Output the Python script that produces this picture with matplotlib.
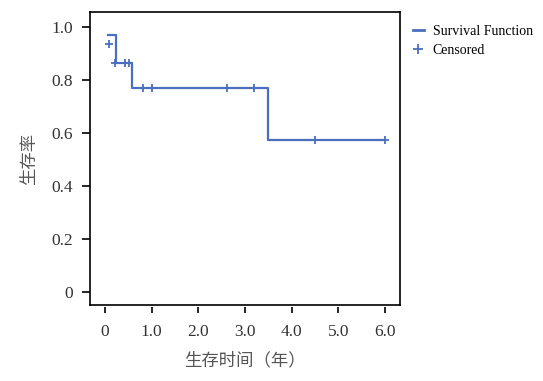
import numpy as np
import matplotlib.pyplot as plt

# Survival curve (step points)
t_step = [0.06, 0.23, 0.59, 3.50, 6.00]
s_step = [0.970, 0.864, 0.767, 0.572, 0.572]

# Censored observations
t_cens = [0.09, 0.21, 0.43, 0.51, 0.81, 1.00, 2.61, 3.19, 4.50, 6.00]
s_cens = [0.934, 0.864, 0.864, 0.864, 0.767, 0.767, 0.767, 0.767, 0.572, 0.572]

xticks = [0, 1, 2, 3, 4, 5, 6]
xtick_labels = ['0', '1.0', '2.0', '3.0', '4.0', '5.0', '6.0']
yticks = [0, 0.2, 0.4, 0.6, 0.8, 1.0]
ytick_labels = ['0', '0.2', '0.4', '0.6', '0.8', '1.0']

blue = '#4a6fbf'
cjk = ['Noto Sans CJK SC', 'DejaVu Sans']
serif = ['Liberation Serif', 'DejaVu Serif']

fig = plt.figure(figsize=(5.43, 3.81), dpi=100)
ax = fig.add_axes([0.1657, 0.1995, 0.5709, 0.769])

ax.plot(t_step, s_step, drawstyle='steps-post', color=blue, lw=1.6,
        label='Survival Function')
ax.plot(t_cens, s_cens, '+', color=blue, ms=6, mew=1.3, label='Censored')

for s in ax.spines.values():
    s.set_linewidth(1.2)
# bottom ticks sit slightly below the frame
ax.spines['bottom'].set_position(('outward', 1.5))
ax.spines['bottom'].set_visible(False)
ax.plot([0, 1], [0, 0], transform=ax.transAxes, color='black', lw=1.2,
        clip_on=False, solid_capstyle='projecting')

ax.set_xlim(-0.32, 6.32)
ax.set_ylim(-0.05, 1.055)
ax.set_xticks(xticks)
ax.set_xticklabels(xtick_labels, family=serif, fontsize=12.5, color='#333333')
ax.set_yticks(yticks)
ax.set_yticklabels(ytick_labels, family=serif, fontsize=12.5, color='#333333')

ax.tick_params(axis='x', direction='out', length=4, width=1.2, pad=8)
ax.tick_params(axis='y', direction='out', length=6, width=1.2, pad=6)

ax.set_xlabel('生存时间（年）', family=cjk, fontsize=12.5, color='#555555',
              labelpad=8)
ax.set_ylabel('生存率', family=cjk, fontsize=12.5, color='#555555', labelpad=10)

leg = ax.legend(loc='upper left', bbox_to_anchor=(1.023, 0.976), frameon=False,
                prop={'family': serif, 'size': 10}, handlelength=0.8,
                handletextpad=0.65, labelspacing=0.45, markerscale=1.3,
                borderaxespad=0)
leg.get_lines()[0].set_linewidth(2)

fig.savefig('out.png', dpi=100)
